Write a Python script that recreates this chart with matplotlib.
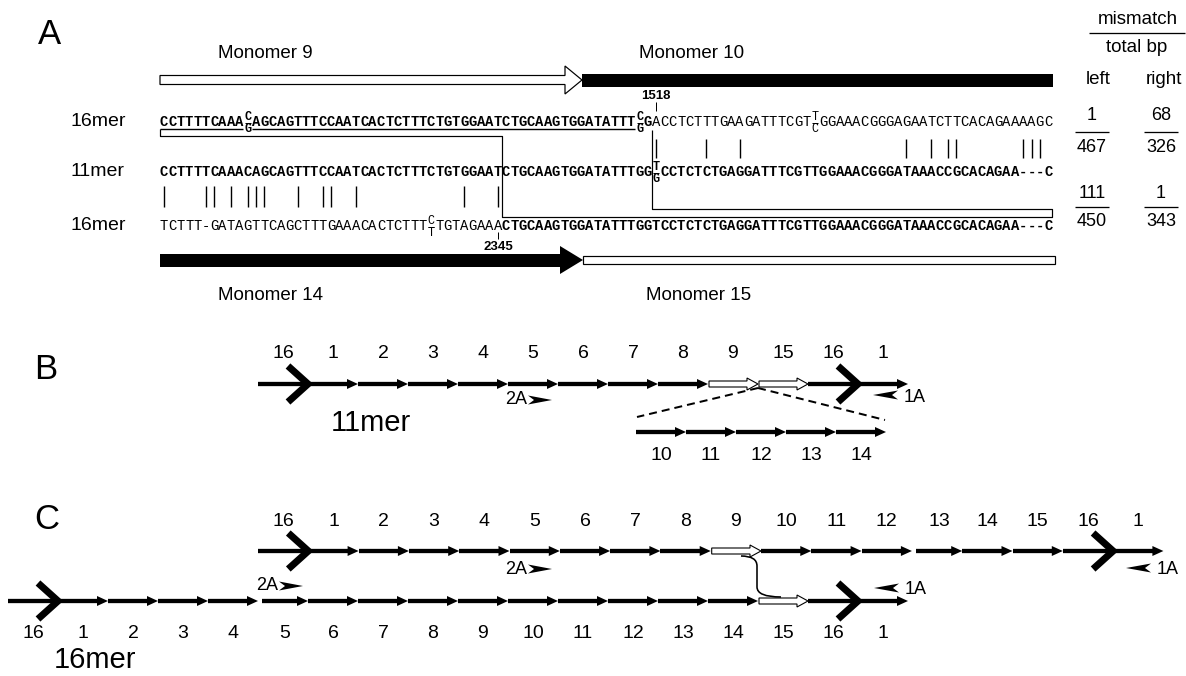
import matplotlib.pyplot as plt
from matplotlib.patches import Polygon, Rectangle, PathPatch
from matplotlib.path import Path

plt.rcParams['font.family'] = ['Liberation Sans', 'DejaVu Sans']

# ---------------- panel A data ----------------
row_names = ["16mer", "11mer", "16mer"]
# tuples are ambiguous bases, drawn stacked in one column
seq_rows = [
    ["CCTTTTCAAA", ("C", "G"), "AGCAGTTTCCAATCACTCTTTCTGTGGAATCTGCAAGTGGATATTT",
     ("C", "G"), "GACCTCTTTGAAGATTTCGT", ("T", "C"), "GGAAACGGGAGAATCTTCACAGAAAAGC"],
    ["CCTTTTCAAACAGCAGTTTCCAATCACTCTTTCTGTGGAATCTGCAAGTGGATATTTGG", ("T", "G"),
     "CCTCTCTGAGGATTTCGTTGGAAACGGGATAAACCGCACAGAA---C"],
    ["TCTTT-GATAGTTCAGCTTTGAAACACTCTTT", ("C", "T"),
     "TGTAGAAACTGCAAGTGGATATTTGGTCCTCTCTGAGGATTTCGTTGGAAACGGGATAAACCGCACAGAA---C"],
]
bold_cols = [(0, 59), (0, 107), (41, 107)]
underline_cols = [(0, 10), (11, 57)]
mism_upper = [59, 65, 69, 89, 92, 94, 95, 103, 104, 105]
mism_lower = [0, 5, 6, 8, 10, 11, 12, 16, 19, 20, 23, 36, 40]
cross_left = 41     # column where 11mer joins the lower 16mer copy
cross_right = 59    # column where 11mer leaves the upper 16mer copy
site_nums = ["1518", "2345"]
mis_left = ["1", "111"]
bp_left = ["467", "450"]
mis_right = ["68", "1"]
bp_right = ["326", "343"]
monomer_top = ["Monomer 9", "Monomer 10"]
monomer_bot = ["Monomer 14", "Monomer 15"]

# ---------------- panels B, C data ----------------
b_main = ["16", "1", "2", "3", "4", "5", "6", "7", "8", "9", "15", "16", "1"]
b_main_open = [9, 10]
b_insert = ["10", "11", "12", "13", "14"]
c_top = ["16", "1", "2", "3", "4", "5", "6", "7", "8", "9", "10", "11", "12",
         "13", "14", "15", "16", "1"]
c_top_open = [9]
c_bot = ["16", "1", "2", "3", "4", "5", "6", "7", "8", "9", "10", "11", "12",
         "13", "14", "15", "16", "1"]
c_bot_open = [15]

PX = 0.72  # points per pixel at dpi 100

fig = plt.figure(figsize=(11.86, 6.76), dpi=100)
ax = fig.add_axes([0, 0, 1, 1])
ax.set_xlim(0, 1186)
ax.set_ylim(676, 0)
ax.axis('off')


def line(xs, ys, w=1.2, **kw):
    ax.plot(xs, ys, color='k', lw=w * PX, solid_capstyle='butt', **kw)


def expand(tokens):
    cols = []
    for t in tokens:
        if isinstance(t, tuple):
            cols.append(t)
        else:
            cols.extend(t)
    return cols


# ---------------- panel A ----------------
ax.text(38, 44, "A", fontsize=25, va='baseline')

X0, CW = 160, 8.34
row_y = [122, 172, 226]
mono = 'Liberation Mono'
for name, tokens, (b0, b1), y in zip(row_names, seq_rows, bold_cols, row_y):
    ax.text(71, y, name, fontsize=14, va='center')
    for i, c in enumerate(expand(tokens)):
        x = X0 + (i + 0.5) * CW
        wt = 'bold' if b0 <= i < b1 else 'normal'
        if isinstance(c, tuple):
            ax.text(x, y - 1.5, c[0], fontsize=8.5, family=mono, weight=wt,
                    ha='center', va='baseline')
            ax.text(x, y + 10, c[1], fontsize=8.5, family=mono, weight=wt,
                    ha='center', va='baseline')
            line([x - 3, x + 3], [y + 0.5, y + 0.5], 1)
        else:
            ax.text(x, y + 4, c, fontsize=10, family=mono, weight=wt,
                    ha='center', va='baseline')

for c0, c1 in underline_cols:
    line([X0 + c0 * CW, X0 + c1 * CW], [129, 129], 1.4)

for c in mism_upper:
    x = X0 + (c + 0.5) * CW
    line([x, x], [139, 158], 1.4)
for c in mism_lower:
    x = X0 + (c + 0.5) * CW
    line([x, x], [186, 207], 1.4)

# crossover path boxes
xl = X0 + cross_left * CW
xr = X0 + cross_right * CW
xe = X0 + 107 * CW
line([X0, X0, xl, xl, xe, xe, xr, xr], [129, 136, 136, 217, 217, 209, 209, 130], 1.2)

# recombination site numbers
ax.text(xr + 4, 96, site_nums[0], fontsize=9.5, weight='bold', ha='center', va='center')
line([xr + 4, xr + 4], [102, 111], 1)
ax.text(xl - 4, 247, site_nums[1], fontsize=9.5, weight='bold', ha='center', va='center')
line([xl - 4, xl - 4], [232, 239], 1)

# monomer bars
ax.add_patch(Polygon([(160, 75.5), (565, 75.5), (565, 66), (582, 80), (565, 94),
                      (565, 84.5), (160, 84.5)], closed=True, fc='white', ec='k',
                     lw=1.2 * PX))
ax.add_patch(Rectangle((582, 73.5), 471, 13, fc='k', ec='none'))
ax.add_patch(Rectangle((160, 253.5), 401, 13, fc='k', ec='none'))
ax.add_patch(Polygon([(560, 246), (583, 260), (560, 274)], closed=True, fc='k', ec='none'))
ax.add_patch(Rectangle((583, 256), 472, 8, fc='white', ec='k', lw=1.2 * PX))
ax.text(265, 53, monomer_top[0], fontsize=13.5, ha='center', va='center')
ax.text(692, 53, monomer_top[1], fontsize=13.5, ha='center', va='center')
ax.text(270, 296, monomer_bot[0], fontsize=13.5, ha='center', va='center')
ax.text(699, 296, monomer_bot[1], fontsize=13.5, ha='center', va='center')

# mismatch / total bp table
ax.text(1138, 20, "mismatch", fontsize=13.5, ha='center', va='center')
line([1089, 1185], [33, 33], 1.3)
ax.text(1137, 48, "total bp", fontsize=13.5, ha='center', va='center')
ax.text(1098, 80, "left", fontsize=13.5, ha='center', va='center')
ax.text(1164, 80, "right", fontsize=13.5, ha='center', va='center')
for k, (yn, yl, yd) in enumerate([(116, 132, 148), (194, 207, 221)]):
    for xc, num, den in [(1092, mis_left[k], bp_left[k]), (1161, mis_right[k], bp_right[k])]:
        ax.text(xc, yn, num, fontsize=13, ha='center', va='center')
        line([xc - 17, xc + 17], [yl, yl], 1.3)
        ax.text(xc, yd, den, fontsize=13, ha='center', va='center')


# ---------------- panels B and C ----------------
LW = 4.3


def small_head(x, y, d=1):
    ax.add_patch(Polygon([(x - d * 11, y - 5), (x, y), (x - d * 11, y + 5)],
                         closed=True, fc='k', ec='none', zorder=3))


def chevron(x, y):
    ax.plot([x - 20, x, x - 20], [y - 18, y, y + 18], color='k', lw=7 * PX,
            solid_joinstyle='miter', solid_capstyle='butt', zorder=3)


def open_arrow(x0, x1, y):
    ax.add_patch(Polygon([(x0, y - 3), (x1 - 11, y - 3), (x1 - 11, y - 6), (x1, y),
                          (x1 - 11, y + 6), (x1 - 11, y + 3), (x0, y + 3)],
                         closed=True, fc='white', ec='k', lw=1.1 * PX, zorder=4))


def draw_row(labels, x0, y, unit, open_ids, lab_dy, gaps=()):
    for i, lab in enumerate(labels):
        xs = x0 + i * unit + (4 if i in gaps else 0)
        xn = x0 + (i + 1) * unit
        if i in open_ids:
            open_arrow(xs + 1, xn, y)
        elif lab == "16":
            line([xs, xn - 3], [y, y], LW)
            chevron(xn, y)
        else:
            line([xs, xn - 9], [y, y], LW)
            small_head(xn, y)
        ax.text((xs + xn) / 2, y + lab_dy, lab, fontsize=14, ha='center', va='center')


def primer(x, y, lab, d):
    # d=1 -> arrow points right after text, d=-1 -> arrow points left before text
    if d > 0:
        ax.text(x, y, lab, fontsize=13, ha='left', va='center')
        xa = x + 23
        ax.add_patch(Polygon([(xa, y - 4.5), (xa + 24, y), (xa, y + 4.5), (xa + 6, y)],
                             closed=True, fc='k', ec='none'))
    else:
        ax.add_patch(Polygon([(x, y), (x + 25, y - 4.5), (x + 19, y), (x + 25, y + 4.5)],
                             closed=True, fc='k', ec='none'))
        ax.text(x + 31, y + 2, lab, fontsize=13, ha='left', va='center')


# panel B
ax.text(34, 379, "B", fontsize=25, va='baseline')
draw_row(b_main, 258, 384, 50, b_main_open, -30)
draw_row(b_insert, 636, 432, 50, [], 23)
ax.plot([758, 637], [388, 417], color='k', lw=2 * PX, ls=(0, (4, 2.5)))
ax.plot([758, 885], [388, 420], color='k', lw=2 * PX, ls=(0, (4, 2.5)))
primer(505, 400, "2A", 1)
primer(873, 395, "1A", -1)
ax.text(331, 423, "11mer", fontsize=21, ha='left', va='center')

# panel C
ax.text(34, 529, "C", fontsize=25, va='baseline')
draw_row(c_top, 258, 551, 50.3, c_top_open, -30, gaps=[13])
draw_row(c_bot, 8, 601, 50, c_bot_open, 32, gaps=[5])
primer(505, 569, "2A", 1)
primer(1126, 568, "1A", -1)
primer(256, 586, "2A", 1)
primer(874, 588, "1A", -1)
ax.text(54, 660, "16mer", fontsize=21, ha='left', va='center')

conn = Path([(741, 556), (757, 556), (757, 566), (757, 587), (757, 597), (781, 597)],
            [Path.MOVETO, Path.CURVE3, Path.CURVE3, Path.LINETO, Path.CURVE3, Path.CURVE3])
ax.add_patch(PathPatch(conn, fc='none', ec='k', lw=1.6 * PX))

fig.savefig("out.png", dpi=100, facecolor='white')
